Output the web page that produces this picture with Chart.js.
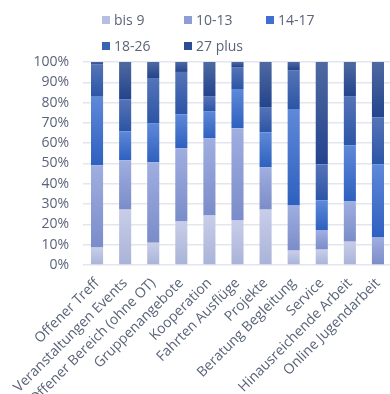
<!DOCTYPE html>
<html>
<head>
<meta charset="utf-8">
<script src="https://cdn.jsdelivr.net/npm/chart.js@4"></script>
<style>
  html, body { margin: 0; padding: 0; background: #ffffff; overflow: hidden; }
  #wrap { position: relative; width: 398px; height: 394px; }
</style>
</head>
<body>
<div id="wrap"><canvas id="c"></canvas></div>
<script>
const categories = ["Offener Treff", "Veranstaltungen Events", "Offener Bereich (ohne OT)", "Gruppenangebote", "Kooperation", "Fahrten Ausflüge", "Projekte", "Beratung Begleitung", "Service", "Hinausreichende Arbeit", "Online Jugendarbeit"];
const seriesNames = ["bis 9", "10-13", "14-17", "18-26", "27 plus"];
const bis9    = [8.6, 27.3, 11.0, 21.4, 24.4, 21.9, 27.3, 7.1, 7.6, 11.5, 0];
const age1013 = [40.5, 24.3, 39.6, 36.1, 38.0, 45.5, 20.8, 22.2, 9.4, 19.8, 13.5];
const age1417 = [33.8, 14.3, 19.3, 16.8, 13.4, 19.3, 17.3, 47.5, 14.8, 27.7, 36.1];
const age1826 = [15.8, 15.8, 22.2, 20.8, 7.4, 10.8, 12.4, 19.2, 17.8, 24.2, 23.2];
const age27   = [1.3, 18.3, 7.9, 4.9, 16.8, 2.5, 22.2, 4.0, 50.4, 16.8, 27.2];
const yTicks = [0, 10, 20, 30, 40, 50, 60, 70, 80, 90, 100];

const seriesValues = [bis9, age1013, age1417, age1826, age27];
const solid  = ["#b6bfe2", "#8d9dd6", "#3f6fd0", "#3a62b5", "#2c4d93"];
const topC   = ["#c8cee9", "#a0aee0", "#5f89d9", "#5574b8", "#4f69a1"];
const botC   = ["#a9b3d8", "#7a8cc9", "#2e60bf", "#2c55a6", "#23448d"];
const textColor = "#5a6478";
const font = "'Open Sans', 'DejaVu Sans', sans-serif";

function gradientFor(i) {
  return function (ctx) {
    const chart = ctx.chart;
    if (ctx.type !== 'data' || !chart.chartArea || !chart.scales.y) return solid[i];
    const j = ctx.dataIndex;
    let base = 0;
    for (let k = 0; k < i; k++) base += seriesValues[k][j];
    const v = seriesValues[i][j];
    const y = chart.scales.y;
    const y0 = y.getPixelForValue(base + v);
    const y1 = y.getPixelForValue(base);
    if (!isFinite(y0) || !isFinite(y1) || y1 - y0 < 1) return solid[i];
    const g = chart.ctx.createLinearGradient(0, y0, 0, y1);
    g.addColorStop(0, topC[i]);
    g.addColorStop(1, botC[i]);
    return g;
  };
}

const gridLegend = {
  id: 'gridLegend',
  afterDraw(chart) {
    const c = chart.ctx;
    c.save();
    c.font = "14px " + font;
    c.textBaseline = 'middle';
    c.textAlign = 'left';
    chart.data.datasets.forEach((ds, i) => {
      const col = i % 3, row = Math.floor(i / 3);
      const x = 102 + col * 82;
      const yc = 20 + row * 26;
      c.fillStyle = solid[i];
      c.fillRect(x, yc - 4, 8, 8);
      c.fillStyle = textColor;
      c.fillText(ds.label, x + 12, yc + 1);
    });
    c.restore();
  }
};

new Chart(document.getElementById('c'), {
  type: 'bar',
  data: {
    labels: categories,
    datasets: seriesNames.map((name, i) => ({
      label: name,
      data: seriesValues[i],
      backgroundColor: gradientFor(i),
      borderWidth: 0,
      barPercentage: 0.43,
      categoryPercentage: 1.0
    }))
  },
  options: {
    responsive: true,
    maintainAspectRatio: false,
    animation: false,
    layout: { padding: { top: 62, right: 6, left: 0, bottom: 0 } },
    plugins: {
      legend: { display: false },
      title: { display: false },
      tooltip: { enabled: false }
    },
    scales: {
      x: {
        stacked: true,
        grid: { display: false },
        border: { display: false },
        ticks: {
          color: textColor,
          font: { family: font, size: 14 },
          maxRotation: 45,
          minRotation: 45,
          autoSkip: false,
          padding: 2
        },
        afterFit(scale) { scale.height = 129; }
      },
      y: {
        stacked: true,
        min: 0,
        max: 100,
        afterBuildTicks(scale) { scale.ticks = yTicks.map(v => ({ value: v })); },
        grid: { color: "#e3e6ee", lineWidth: 1.5, drawTicks: false },
        border: { display: false },
        ticks: {
          color: textColor,
          font: { family: font, size: 14 },
          padding: 14,
          callback: v => v + '%'
        },
        afterFit(scale) { scale.width = 83; }
      }
    }
  },
  plugins: [gridLegend]
});
</script>
</body>
</html>
